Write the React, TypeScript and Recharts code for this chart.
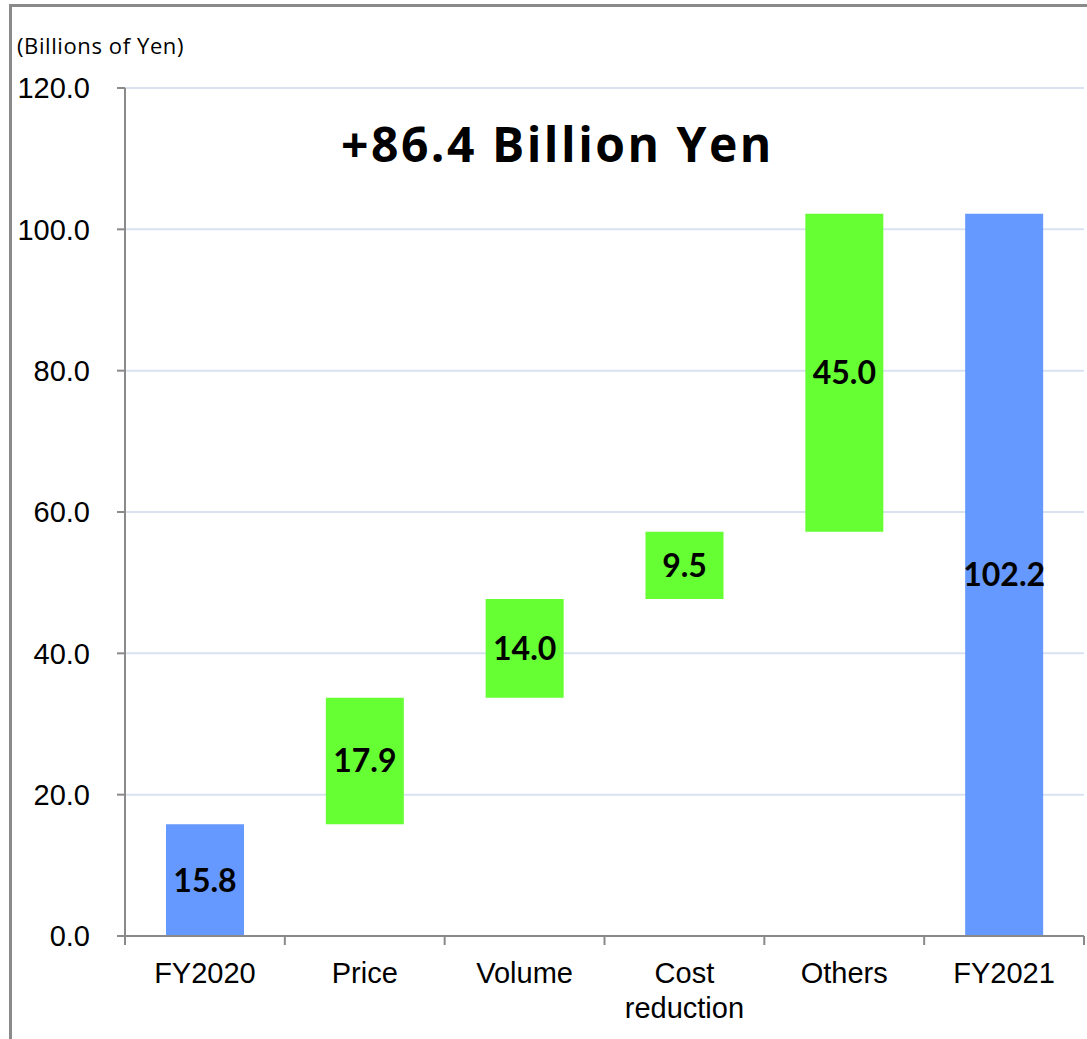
import React from 'react'
import { BarChart, Bar, XAxis, YAxis, CartesianGrid, LabelList, Cell } from 'recharts'

const categories = ['FY2020', 'Price', 'Volume', 'Cost\nreduction', 'Others', 'FY2021']
const deltas = [15.8, 17.9, 14.0, 9.5, 45.0, 102.2]
const isTotal = [true, false, false, false, false, true]
const yTicks = [0, 20, 40, 60, 80, 100, 120]

const BLUE = '#6699ff'
const GREEN = '#66ff33'
const AXIS = '#8a8a8a'
const TICK_FONT = "'Liberation Sans', Arial, sans-serif"

// invisible base + visible step, waterfall style
let running = 0
const chartData = categories.map((name, i) => {
  const base = isTotal[i] ? 0 : running
  if (!isTotal[i]) running += deltas[i]
  else running = deltas[i]
  return { name, base, value: deltas[i] }
})

function CategoryTick({ x, y, payload, index, visibleTicksCount }: any) {
  const lines = String(payload.value).split('\n')
  const half = payload.offset || 80
  const last = index === visibleTicksCount - 1
  return (
    <g>
      <line x1={x - half} x2={x - half} y1={y} y2={y + 9} stroke={AXIS} strokeWidth={2} />
      {last && <line x1={x + half} x2={x + half} y1={y} y2={y + 9} stroke={AXIS} strokeWidth={2} />}
      {index === 0 && <line x1={x - half - 8} x2={x - half} y1={y} y2={y} stroke={AXIS} strokeWidth={2} />}
      <text x={x} y={y} textAnchor="middle" fill="#000" fontSize={29} fontFamily={TICK_FONT}>
        {lines.map((l, i) => (
          <tspan key={i} x={x} dy={i === 0 ? 47 : 35}>
            {l}
          </tspan>
        ))}
      </text>
    </g>
  )
}

export default function App() {
  return (
    <div style={{ position: 'fixed', left: 0, top: 0, width: 1087, height: 1039, background: '#fff' }}>
      <div
        style={{
          position: 'absolute',
          left: 9,
          top: 4,
          width: 1100,
          height: 1100,
          borderTop: `3px solid ${AXIS}`,
          borderLeft: `3px solid ${AXIS}`,
          boxSizing: 'border-box',
        }}
      />
      <div
        style={{
          position: 'absolute',
          left: 17,
          top: 30,
          fontSize: 22,
          letterSpacing: 0.6,
          fontFamily: "'Open Sans', sans-serif",
          color: '#000',
          whiteSpace: 'nowrap',
        }}
      >
        (Billions of Yen)
      </div>
      <div
        style={{
          position: 'absolute',
          left: 341,
          top: 111,
          fontSize: 48,
          fontWeight: 700,
          letterSpacing: 2.5,
          fontFamily: "'Open Sans', sans-serif",
          color: '#000',
          whiteSpace: 'nowrap',
        }}
      >
        +86.4 Billion Yen
      </div>
      <div style={{ position: 'absolute', left: 0, top: 0 }}>
        <BarChart
          width={1087}
          height={1039}
          data={chartData}
          margin={{ top: 88, right: 3, left: 0, bottom: 43 }}
        >
          <CartesianGrid vertical={false} stroke="#d9e2ef" strokeWidth={2} />
          <XAxis
            dataKey="name"
            height={60}
            tickLine={false}
            tickSize={0}
            tickMargin={0}
            stroke={AXIS}
            strokeWidth={2}
            tick={<CategoryTick />}
            interval={0}
          />
          <YAxis
            width={125}
            domain={[0, 120]}
            ticks={yTicks}
            tickFormatter={(v: number) => v.toFixed(1)}
            tickSize={8}
            tickMargin={27}
            stroke={AXIS}
            strokeWidth={2}
            tick={{ fill: '#000', fontSize: 29, fontFamily: TICK_FONT }}
          />
          <Bar dataKey="base" stackId="w" fill="transparent" barSize={78} isAnimationActive={false} />
          <Bar dataKey="value" stackId="w" barSize={78} isAnimationActive={false}>
            {chartData.map((d, i) => (
              <Cell key={d.name} fill={isTotal[i] ? BLUE : GREEN} />
            ))}
            <LabelList
              dataKey="value"
              position="center"
              formatter={(v: number) => v.toFixed(1)}
              style={{ fill: '#000', fontSize: 32, fontWeight: 700, fontFamily: 'Lato, sans-serif' }}
            />
          </Bar>
        </BarChart>
      </div>
    </div>
  )
}
